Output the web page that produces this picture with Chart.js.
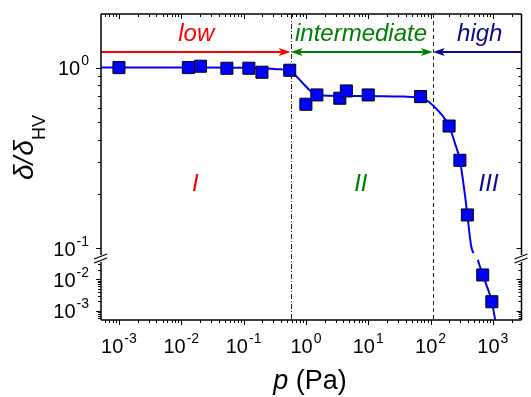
<!DOCTYPE html>
<html>
<head>
<meta charset="utf-8">
<script src="https://cdn.jsdelivr.net/npm/chart.js@4.4.1/dist/chart.umd.min.js"></script>
<style>
  html, body { margin: 0; padding: 0; background: #fff; }
  #wrap { width: 531px; height: 397px; position: relative; }
</style>
</head>
<body>
<div id="wrap"><canvas id="chart"></canvas></div>
<script>
// measured points (p in Pa, delta / delta_HV)
const pressure = [0.001, 0.013, 0.0203, 0.054, 0.1216, 0.197, 0.55, 1.0, 1.5, 3.5, 4.46, 10, 69.3, 198.5, 296, 390, 688, 964];
const ratio = [1.0, 1.0, 1.018, 0.992, 0.992, 0.943, 0.967, 0.627, 0.706, 0.677, 0.743, 0.706, 0.691, 0.475, 0.307, 0.153, 0.0137, 0.00196];

// fitted curve
const fitPressure = [5.15e-4, 0.0187, 0.164, 0.34, 0.55, 0.893, 1.28, 1.85, 6.17, 37.8, 78.1, 112, 152, 199, 247, 296, 355, 390, 451, 491,
                     574, 688, 964, 1092];
const fitRatio = [1.0, 1.0, 0.996, 0.98, 0.959, 0.82, 0.727, 0.70, 0.697, 0.691, 0.671, 0.614, 0.547, 0.476, 0.381, 0.307, 0.2, 0.153, 0.102, 0.094,
                  0.041, 0.0137, 0.00196, 0.00052];

// axes (broken y axis: upper and lower log ranges)
const xRange = [5.15e-4, 2884];
const yUpperRange = [0.0884, 1.98];
const yLowerRange = [5.2e-4, 0.047];
const xTickPowers = [-3, -2, -1, 0, 1, 2, 3];
const yUpperTickPowers = [0, -1];
const yLowerTickPowers = [-2, -3];

// regimes
const boundaries = [0.57, 109];
const arrowLevel = 1.22;
const regimeNames = ['low', 'intermediate', 'high'];
const regionNames = ['I', 'II', 'III'];
const regimeColors = ['#ff0000', '#008000', '#0a0a96'];

const FONT = '"Liberation Sans", Arial, sans-serif';

const upperPts = [], lowerPts = [], upperFit = [], lowerFit = [];
pressure.forEach((p, i) => (ratio[i] >= yUpperRange[0] ? upperPts : lowerPts).push({x: p, y: ratio[i]}));
fitPressure.forEach((p, i) => (fitRatio[i] >= yUpperRange[0] ? upperFit : lowerFit).push({x: p, y: fitRatio[i]}));

function logTicks(min, max) {
    const out = [];
    for (let k = Math.floor(Math.log10(min)); k <= Math.ceil(Math.log10(max)); k++) {
        for (let m = 1; m < 10; m++) {
            const v = m * Math.pow(10, k);
            if (v >= min * 0.999 && v <= max * 1.001) out.push({v: v, major: m === 1});
        }
    }
    return out;
}

function powLabel(ctx, x, y, p, align) {
    ctx.font = '20px ' + FONT;
    const wb = ctx.measureText('10').width;
    ctx.font = '14px ' + FONT;
    const sup = String(p);
    const ws = ctx.measureText(sup).width;
    const total = wb + 1 + ws;
    const x0 = align === 'center' ? x - total / 2 : x - total;
    ctx.textAlign = 'left';
    ctx.textBaseline = 'alphabetic';
    ctx.fillStyle = '#000';
    ctx.font = '20px ' + FONT;
    ctx.fillText('10', x0, y);
    ctx.font = '14px ' + FONT;
    ctx.fillText(sup, x0 + wb + 1, y - 10);
}

function arrowHead(ctx, x, y, dir, color) {
    ctx.fillStyle = color;
    ctx.beginPath();
    ctx.moveTo(x, y);
    ctx.lineTo(x - dir * 12, y - 4);
    ctx.lineTo(x - dir * 9, y);
    ctx.lineTo(x - dir * 12, y + 4);
    ctx.closePath();
    ctx.fill();
}

const framePlugin = {
    id: 'frame',
    beforeDatasetsDraw(chart) {
        const ctx = chart.ctx, a = chart.chartArea, xs = chart.scales.x;
        ctx.save();
        ctx.strokeStyle = '#222';
        ctx.lineWidth = 1;
        const dashes = [[5, 2, 1, 2], [4, 3]];
        boundaries.forEach((b, i) => {
            const px = Math.round(xs.getPixelForValue(b)) + 0.5;
            ctx.setLineDash(dashes[i]);
            ctx.beginPath();
            ctx.moveTo(px, a.top);
            ctx.lineTo(px, a.bottom);
            ctx.stroke();
        });
        ctx.restore();
    },
    afterDraw(chart) {
        const ctx = chart.ctx, a = chart.chartArea;
        const xs = chart.scales.x, yu = chart.scales.yUp, yl = chart.scales.yLow;
        const breakY = yu.bottom;
        ctx.save();

        // regime arrows
        const ay = yu.getPixelForValue(arrowLevel);
        const bx = boundaries.map(b => xs.getPixelForValue(b));
        ctx.lineWidth = 2;
        ctx.strokeStyle = regimeColors[0];
        ctx.beginPath(); ctx.moveTo(a.left, ay); ctx.lineTo(bx[0] - 9, ay); ctx.stroke();
        arrowHead(ctx, bx[0], ay, 1, regimeColors[0]);
        ctx.strokeStyle = regimeColors[1];
        ctx.beginPath(); ctx.moveTo(bx[0] + 9, ay); ctx.lineTo(bx[1] - 9, ay); ctx.stroke();
        arrowHead(ctx, bx[0], ay, -1, regimeColors[1]);
        arrowHead(ctx, bx[1], ay, 1, regimeColors[1]);
        ctx.strokeStyle = regimeColors[2];
        ctx.beginPath(); ctx.moveTo(a.right, ay); ctx.lineTo(bx[1] + 9, ay); ctx.stroke();
        arrowHead(ctx, bx[1], ay, -1, regimeColors[2]);

        // regime names and region numerals
        const nameX = [0.0174, 7.67, 617];
        const regionX = [0.0168, 7.62, 854];
        ctx.textAlign = 'center';
        ctx.textBaseline = 'alphabetic';
        ctx.font = 'italic 24px ' + FONT;
        regimeNames.forEach((n, i) => {
            ctx.fillStyle = regimeColors[i];
            ctx.fillText(n, xs.getPixelForValue(nameX[i]), yu.getPixelForValue(1.405));
        });
        regionNames.forEach((n, i) => {
            ctx.fillStyle = regimeColors[i];
            ctx.fillText(n, xs.getPixelForValue(regionX[i]), yu.getPixelForValue(0.208));
        });

        // frame with break on left and right
        ctx.strokeStyle = '#000';
        ctx.lineWidth = 1.5;
        ctx.beginPath();
        ctx.moveTo(a.left, a.top); ctx.lineTo(a.right, a.top);
        ctx.moveTo(a.left, a.bottom); ctx.lineTo(a.right, a.bottom);
        [a.left, a.right].forEach(x => {
            ctx.moveTo(x, a.top); ctx.lineTo(x, breakY - 3);
            ctx.moveTo(x, breakY + 4); ctx.lineTo(x, a.bottom);
        });
        ctx.stroke();
        ctx.lineWidth = 1.2;
        ctx.beginPath();
        [a.left, a.right].forEach(x => {
            ctx.moveTo(x - 7, breakY + 1); ctx.lineTo(x + 6, breakY - 4);
            ctx.moveTo(x - 7, breakY + 5); ctx.lineTo(x + 6, breakY);
        });
        ctx.stroke();

        // ticks
        ctx.lineWidth = 1;
        ctx.beginPath();
        logTicks(xRange[0], xRange[1]).forEach(t => {
            const px = Math.round(xs.getPixelForValue(t.v)) + 0.5;
            const len = t.major ? 5 : 3;
            ctx.moveTo(px, a.bottom); ctx.lineTo(px, a.bottom + len);
            ctx.moveTo(px, a.top); ctx.lineTo(px, a.top + len);
        });
        [[yu, yUpperRange], [yl, yLowerRange]].forEach(([s, r]) => {
            logTicks(r[0], r[1]).forEach(t => {
                const py = Math.round(s.getPixelForValue(t.v)) + 0.5;
                if (Math.abs(py - breakY) < 4) return;
                const len = t.major ? 5 : 3;
                ctx.moveTo(a.left, py); ctx.lineTo(a.left - len, py);
                ctx.moveTo(a.right, py); ctx.lineTo(a.right - len, py);
            });
        });
        ctx.stroke();

        // tick labels
        xTickPowers.forEach(p => powLabel(ctx, xs.getPixelForValue(Math.pow(10, p)), a.bottom + 33, p, 'center'));
        yUpperTickPowers.forEach(p => powLabel(ctx, a.left - 12, yu.getPixelForValue(Math.pow(10, p)) + 7.5, p, 'right'));
        yLowerTickPowers.forEach(p => powLabel(ctx, a.left - 12, yl.getPixelForValue(Math.pow(10, p)) + 7.5, p, 'right'));

        // x title: p (Pa)
        ctx.fillStyle = '#000';
        ctx.textAlign = 'left';
        ctx.font = 'italic 27px ' + FONT;
        const wp = ctx.measureText('p').width;
        ctx.font = '27px ' + FONT;
        const wr = ctx.measureText(' (Pa)').width;
        const tx = 310 - (wp + wr) / 2;
        ctx.font = 'italic 27px ' + FONT;
        ctx.fillText('p', tx, 389);
        ctx.font = '27px ' + FONT;
        ctx.fillText(' (Pa)', tx + wp, 389);

        // y title: delta / delta_HV
        ctx.translate(33, 180);
        ctx.rotate(-Math.PI / 2);
        ctx.font = 'italic 28px ' + FONT;
        let cx = 0;
        ctx.fillText('\u03B4/', cx, 0);
        cx += ctx.measureText('\u03B4/').width + 1;
        ctx.fillText('\u03B4', cx, 0);
        cx += ctx.measureText('\u03B4').width;
        ctx.font = '18px ' + FONT;
        ctx.fillText('HV', cx, 12);
        ctx.restore();
    }
};

const pointStyle = {
    showLine: false,
    pointStyle: 'rect',
    pointRadius: 8.5,
    pointBackgroundColor: '#0000ff',
    pointBorderColor: '#000',
    pointBorderWidth: 1
};
const lineStyle = {
    pointRadius: 0,
    borderColor: '#0000ff',
    borderWidth: 2,
    cubicInterpolationMode: 'monotone',
    fill: false
};

new Chart(document.getElementById('chart').getContext('2d'), {
    type: 'line',
    data: {
        datasets: [
            Object.assign({label: 'data', data: upperPts, yAxisID: 'yUp'}, pointStyle),
            Object.assign({label: 'data low', data: lowerPts, yAxisID: 'yLow'}, pointStyle),
            Object.assign({label: 'fit', data: upperFit, yAxisID: 'yUp'}, lineStyle),
            Object.assign({label: 'fit low', data: lowerFit, yAxisID: 'yLow'}, lineStyle)
        ]
    },
    options: {
        responsive: true,
        maintainAspectRatio: false,
        animation: false,
        events: [],
        layout: { padding: { left: 101, right: 1.5, top: 14, bottom: 77 } },
        plugins: { legend: { display: false }, tooltip: { enabled: false } },
        scales: {
            x: { type: 'logarithmic', min: xRange[0], max: xRange[1], display: false },
            // stacked left axes are laid out in reverse order: lower part first
            yLow: { type: 'logarithmic', position: 'left', stack: 'y', stackWeight: 62,
                    min: yLowerRange[0], max: yLowerRange[1], display: false },
            yUp: { type: 'logarithmic', position: 'left', stack: 'y', stackWeight: 244,
                   min: yUpperRange[0], max: yUpperRange[1], display: false }
        }
    },
    plugins: [framePlugin]
});
</script>
</body>
</html>
